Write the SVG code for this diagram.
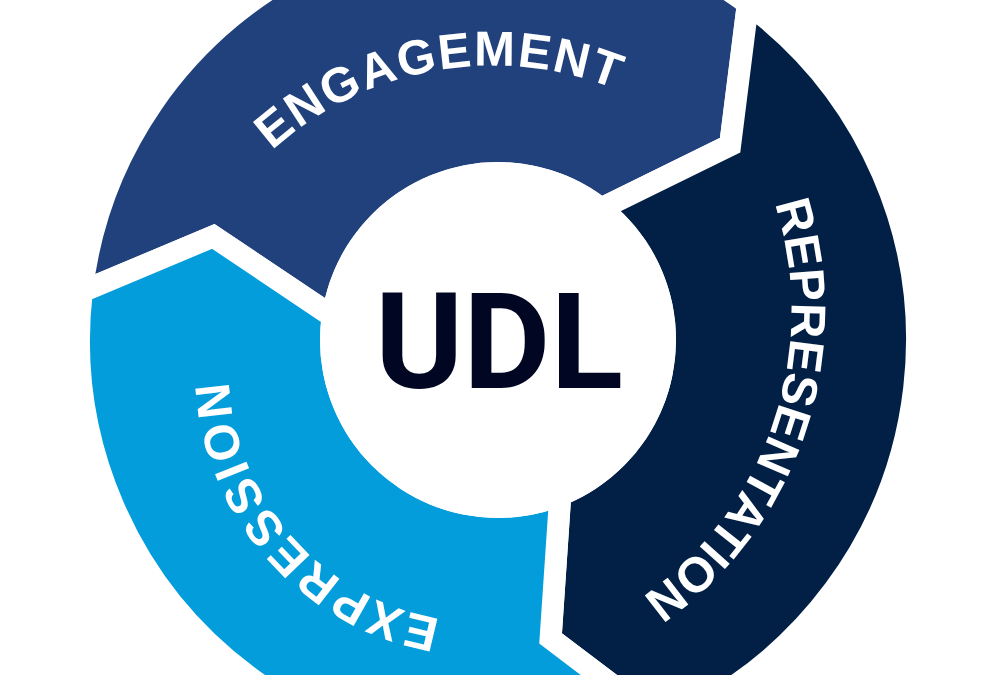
<svg xmlns="http://www.w3.org/2000/svg" width="1000" height="675" viewBox="0 0 1000 675">
  <style>
    .seg { stroke: #ffffff; stroke-width: 22; stroke-linejoin: miter; stroke-miterlimit: 10; }
    .lbl { font-family: "Liberation Sans", Arial, sans-serif; font-weight: 700; font-size: 49px; fill: #ffffff; }
    .udl { font-family: Roboto, "Liberation Sans", Arial, sans-serif; font-weight: 700; font-size: 134px; fill: #010622; }
  </style>
  <defs>
    <path id="arcEng" d="M164.8,423.7 A329.5,329.5 0 0 1 811.3,309.7" fill="none"/>
    <path id="arcRep" d="M582.5,-8.4 A348.5,348.5 0 0 1 361.1,649.7" fill="none"/>
    <path id="arcExp" d="M632.4,573 A253.5,253.5 0 0 1 298.4,194.2" fill="none"/>
  </defs>
  <rect width="1000" height="675" fill="#ffffff"/>

  <g id="engagement">
    <path class="seg" fill="#21417c" d="M81.8,291.7 A419,419 0 0 1 747.9,3.7 L730.1,145.2 L601,208.6 A167,167 0 0 0 332.7,316.5 L213.3,236.4 Z"/>
    <text class="lbl" letter-spacing="1.8"><textPath href="#arcEng" startOffset="50%" text-anchor="middle">ENGAGEMENT</textPath></text>
  </g>

  <g id="representation">
    <path class="seg" fill="#021f46" d="M747.9,3.7 A419,419 0 0 1 664.3,724.6 L550.6,638.4 L560.3,494.9 A167,167 0 0 0 601,208.6 L730.1,145.2 Z"/>
    <text class="lbl" letter-spacing="0"><textPath href="#arcRep" startOffset="50%" text-anchor="middle">REPRESENTATION</textPath></text>
  </g>

  <g id="expression">
    <path class="seg" fill="#039ddc" d="M664.3,724.6 A419,419 0 0 1 81.8,291.7 L213.3,236.4 L332.7,316.5 A167,167 0 0 0 560.3,494.9 L550.6,638.4 Z"/>
    <text class="lbl" letter-spacing="2.8"><textPath href="#arcExp" startOffset="50%" text-anchor="middle">EXPRESSION</textPath></text>
  </g>

  <g id="udl">
    <circle cx="498" cy="340" r="178" fill="#ffffff"/>
    <text class="udl" x="499" y="388" text-anchor="middle">UDL</text>
  </g>
</svg>
